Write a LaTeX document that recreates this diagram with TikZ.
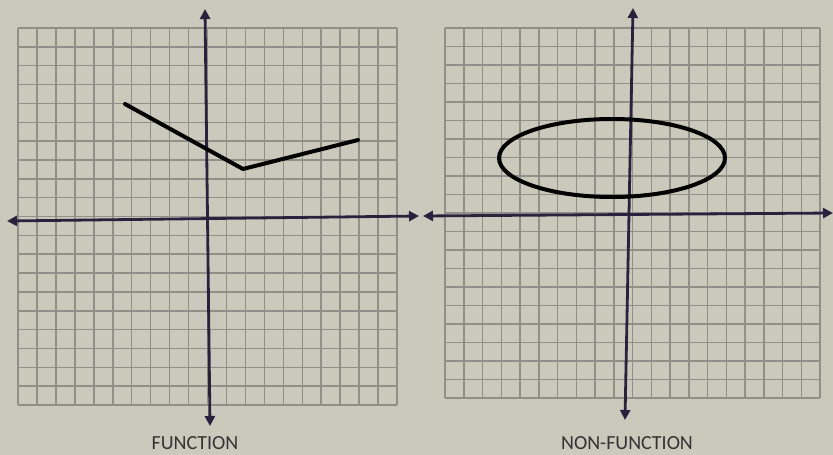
\documentclass[tikz,border=0pt]{standalone}
\usepackage{fontspec}
\setmainfont{Carlito}
\usetikzlibrary{arrows.meta}
\definecolor{paper}{RGB}{203,201,188}
\definecolor{gridc}{RGB}{145,144,136}
\definecolor{axisc}{RGB}{40,34,62}
\tikzset{
  gridline/.style={draw=gridc, line width=1.5pt},
  axisline/.style={draw=axisc, line width=2.8pt, {Triangle[length=10pt,width=10pt]}-{Triangle[length=10pt,width=10pt]}},
  curveline/.style={draw=black, line width=4pt, line cap=round, line join=round},
  caption/.style={font=\fontsize{20}{24}\selectfont, text=black!80, anchor=base, inner sep=0pt}
}
\begin{document}
\begin{tikzpicture}[x=1pt,y=-1pt]
\fill[paper] (0,0) rectangle (833,455);
\useasboundingbox (0,0) rectangle (833,455);
% left grid
\foreach \i in {0,...,20} {
  \draw[gridline] ({18+\i*18.95},28) -- ({18+\i*18.95},405);
  \draw[gridline] (18,{28+\i*18.85}) -- (397,{28+\i*18.85});
}
% right grid
\foreach \i in {0,...,20} {
  \draw[gridline] ({445+\i*18.75},28) -- ({445+\i*18.75},398);
  \draw[gridline] (445,{28+\i*18.5}) -- (820,{28+\i*18.5});
}
% left axes
\coordinate (lxl) at (7,221);
\coordinate (lxr) at (419,216);
\coordinate (lyt) at (205,9);
\coordinate (lyb) at (210,426);
\draw[axisline] (lxl) -- (lxr);
\draw[axisline] (lyt) -- (lyb);
% right axes
\coordinate (rxl) at (423,216);
\coordinate (rxr) at (833,213);
\coordinate (ryt) at (633,8);
\coordinate (ryb) at (625,420);
\draw[axisline] (rxl) -- (rxr);
\draw[axisline] (ryt) -- (ryb);
% V graph
\coordinate (v1) at (125,104);
\coordinate (v2) at (243,169);
\coordinate (v3) at (358,140);
\draw[curveline] (v1) -- (v2) -- (v3);
% ellipse
\coordinate (ec) at (612,158);
\draw[curveline] (ec) ellipse [x radius=113, y radius=39];
% captions
\node[caption] (lab1) at (195,449) {FUNCTION};
\node[caption] (lab2) at (627,449) {NON-FUNCTION};
\end{tikzpicture}
\end{document}
